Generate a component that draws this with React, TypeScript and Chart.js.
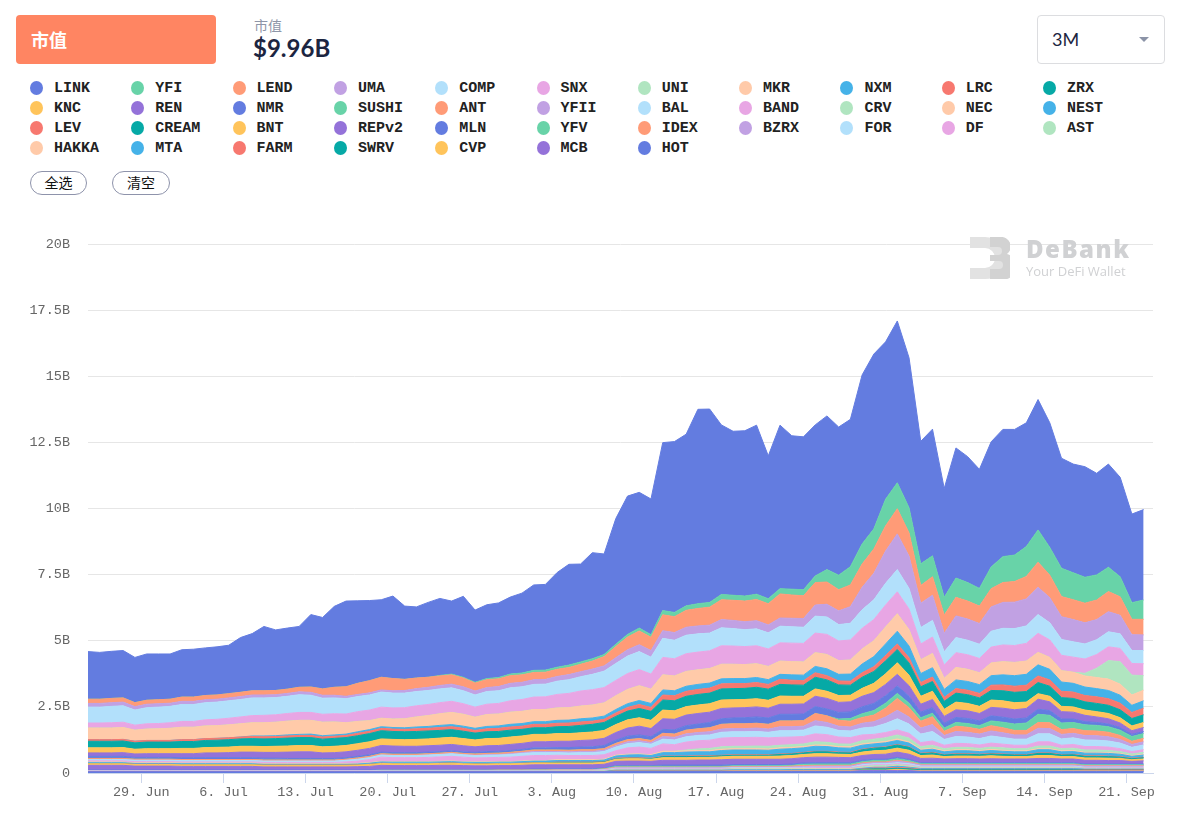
import React, { useEffect, useRef } from 'react';
import { Chart, registerables } from 'chart.js';

Chart.register(...registerables);

// ---------- axis data ----------
// x = days since 24 Jun 00:00; daily snapshots are taken ~0.45 day into each day
const SNAPSHOT_OFFSET = 0.45;
const X_MAX = 91.25;
const TICK_DAYS = [5, 12, 19, 26, 33, 40, 47, 54, 61, 68, 75, 82, 89];
const TICK_LABELS = ['29. Jun', '6. Jul', '13. Jul', '20. Jul', '27. Jul', '3. Aug', '10. Aug', '17. Aug', '24. Aug', '31. Aug', '7. Sep', '14. Sep', '21. Sep'];
const Y_MAX = 20;
const Y_STEP = 2.5;

// ---------- legend / stack order (first = top of stack) ----------
const NAMES = ['LINK', 'YFI', 'LEND', 'UMA', 'COMP', 'SNX', 'UNI', 'MKR', 'NXM', 'LRC', 'ZRX',
  'KNC', 'REN', 'NMR', 'SUSHI', 'ANT', 'YFII', 'BAL', 'BAND', 'CRV', 'NEC', 'NEST',
  'LEV', 'CREAM', 'BNT', 'REPv2', 'MLN', 'YFV', 'IDEX', 'BZRX', 'FOR', 'DF', 'AST',
  'HAKKA', 'MTA', 'FARM', 'SWRV', 'CVP', 'MCB', 'HOT'];
const PALETTE = ['#637ce0', '#68d3a8', '#ff9b77', '#c1a1e3', '#b2e0fb', '#e8a6e4', '#b0e5c0',
  '#ffcaa9', '#45b2e8', '#f7786f', '#06a9a6', '#ffc45b', '#9472d9'];

// ---------- market cap values, $B, one per day from 24 Jun to 22 Sep ----------
const LINK = [
1.80,1.77,1.78,1.79,1.71,1.75,1.73,1.71,1.79,1.81,
1.80,1.82,1.83,2.07,2.16,2.43,2.29,2.31,2.30,2.74,
2.70,3.06,3.24,3.12,3.03,2.93,3.12,2.77,2.69,2.83,
2.91,2.76,3.06,2.73,2.79,2.82,2.91,3.02,3.23,3.24,
3.58,3.81,3.70,4.01,3.80,4.75,5.23,5.13,5.13,6.35,
6.46,6.49,7.35,7.31,6.41,6.20,6.25,6.39,5.40,6.18,
5.80,5.78,5.71,5.81,5.60,5.57,6.39,6.61,5.95,6.12,
5.67,4.63,4.79,4.12,4.92,4.76,4.50,4.73,4.81,4.75,
4.68,4.93,4.71,4.16,4.11,4.18,3.84,3.90,3.76,3.35,
3.42];
const YFI = [
0,0,0,0,0,0,0,0,0,0,
0,0,0,0,0,0,0,0,0,0,
0,0,0,0,0,0,0,0,0,0,
.02,.03,.03,.03,.04,.05,.06,.07,.08,.08,
.08,.09,.09,.09,.08,.09,.10,.11,.10,.16,
.16,.17,.18,.18,.20,.19,.19,.20,.19,.20,
.22,.23,.25,.47,.55,.69,.76,.76,1.01,.98,
.95,.82,.79,.67,.73,.70,.67,.82,.98,1.00,
1.13,1.22,1.05,1.07,1.02,.98,.95,.92,.76,.63,
.73];
const LEND = [
.16,.16,.16,.16,.15,.15,.15,.15,.16,.16,
.16,.16,.16,.16,.16,.16,.16,.16,.17,.20,
.24,.30,.36,.42,.46,.48,.46,.42,.40,.38,
.36,.35,.33,.30,.30,.29,.29,.28,.27,.27,
.27,.27,.28,.30,.35,.42,.48,.52,.50,.60,
.60,.64,.66,.68,.75,.76,.78,.80,.80,.91,
.88,.86,.85,.84,.80,.82,.88,.92,.95,.95,
.88,.67,.70,.69,.70,.68,.66,.69,.75,.78,
.85,.95,.85,.76,.75,.74,.74,.76,.70,.58,
.59];
const UMA = [
.14,.14,.14,.14,.13,.13,.13,.12,.12,.12,
.11,.11,.11,.11,.11,.11,.11,.11,.11,.11,
.11,.10,.09,.08,.08,.08,.09,.10,.11,.12,
.13,.14,.15,.15,.15,.16,.17,.17,.18,.18,
.18,.19,.19,.20,.20,.22,.24,.26,.25,.29,
.29,.30,.30,.30,.31,.31,.30,.31,.30,.31,
.32,.33,.42,.48,.52,.63,.85,1.00,1.22,1.35,
1.22,.92,.95,.70,.82,.80,.78,.92,.98,1.00,
1.02,1.03,.95,.86,.84,.80,.76,.76,.70,.60,
.59];
const COMP = [
.60,.60,.62,.62,.57,.61,.62,.62,.64,.64,
.65,.65,.66,.66,.67,.66,.65,.65,.67,.65,
.61,.60,.58,.57,.57,.57,.56,.55,.54,.53,
.52,.51,.49,.46,.48,.48,.49,.48,.48,.48,
.50,.52,.54,.58,.62,.64,.66,.68,.64,.72,
.70,.70,.69,.67,.68,.66,.64,.64,.61,.63,
.62,.61,.64,.66,.62,.63,.70,.75,.82,.84,
.78,.62,.63,.50,.57,.55,.54,.60,.63,.64,
.66,.71,.65,.60,.58,.57,.56,.57,.55,.49,
.50];
const SNX = [
.19,.19,.20,.20,.19,.20,.20,.21,.22,.22,
.23,.24,.25,.26,.27,.28,.28,.29,.30,.30,
.30,.31,.33,.37,.40,.42,.42,.42,.42,.42,
.42,.42,.40,.38,.39,.40,.43,.45,.47,.48,
.51,.54,.57,.58,.58,.58,.60,.61,.57,.66,
.65,.67,.67,.67,.70,.69,.68,.68,.66,.69,
.70,.70,.74,.76,.74,.76,.78,.80,.83,.83,
.78,.60,.62,.50,.56,.55,.54,.60,.63,.64,
.67,.72,.66,.58,.57,.54,.52,.52,.50,.44,
.45];
const UNI = [
0,0,0,0,0,0,0,0,0,0,
0,0,0,0,0,0,0,0,0,0,
0,0,0,0,0,0,0,0,0,0,
0,0,0,0,0,0,0,0,0,0,
0,0,0,0,0,0,0,0,0,0,
0,0,0,0,0,0,0,0,0,0,
0,0,0,0,0,0,0,0,0,0,
0,0,0,0,0,0,0,0,0,0,
0,0,0,0,0,.10,.35,.70,.85,.75,
.55];
const MKR = [
.44,.44,.44,.45,.42,.43,.44,.46,.47,.47,
.48,.48,.49,.50,.50,.50,.51,.52,.53,.52,
.51,.49,.43,.39,.34,.32,.32,.34,.38,.41,
.44,.46,.45,.42,.45,.45,.46,.46,.46,.46,
.47,.47,.48,.49,.50,.52,.54,.56,.54,.57,
.56,.56,.55,.55,.55,.54,.53,.52,.50,.50,
.50,.50,.52,.54,.52,.53,.57,.60,.64,.66,
.62,.52,.54,.42,.47,.46,.45,.48,.50,.50,
.50,.47,.45,.43,.42,.42,.42,.43,.42,.39,
.40];
const NXM = [
0,0,0,0,0,0,0,0,0,0,
0,0,0,0,.02,.03,.03,.04,.04,.05,
.05,.05,.05,.06,.06,.06,.06,.06,.07,.07,
.08,.08,.08,.08,.09,.09,.10,.10,.10,.10,
.11,.11,.12,.12,.12,.13,.14,.15,.15,.19,
.19,.19,.19,.19,.19,.19,.19,.19,.18,.19,
.20,.21,.24,.26,.25,.27,.33,.38,.44,.48,
.44,.34,.35,.30,.33,.33,.33,.36,.38,.40,
.41,.42,.40,.35,.33,.32,.31,.31,.30,.27,
.28];
const LRC = [
.06,.06,.06,.06,.06,.06,.06,.06,.07,.07,
.07,.07,.07,.07,.08,.08,.08,.08,.08,.08,
.08,.08,.08,.09,.09,.09,.09,.09,.10,.10,
.11,.11,.11,.10,.11,.12,.12,.12,.13,.13,
.13,.13,.13,.12,.12,.13,.14,.15,.15,.19,
.19,.19,.19,.19,.19,.19,.18,.18,.18,.19,
.18,.17,.17,.16,.15,.15,.17,.18,.20,.21,
.20,.16,.17,.15,.17,.17,.17,.20,.22,.23,
.24,.25,.24,.24,.24,.24,.25,.25,.25,.23,
.25];
const ZRX = [
.25,.25,.25,.25,.24,.25,.25,.25,.26,.26,
.27,.27,.28,.28,.29,.29,.29,.30,.30,.30,
.29,.30,.30,.30,.31,.31,.30,.30,.30,.30,
.29,.29,.28,.26,.26,.26,.26,.25,.25,.25,
.26,.27,.28,.29,.30,.31,.33,.35,.34,.38,
.38,.39,.40,.40,.42,.42,.42,.43,.42,.44,
.43,.42,.44,.43,.40,.38,.42,.45,.49,.50,
.46,.36,.37,.30,.34,.33,.32,.36,.38,.39,
.40,.42,.38,.33,.32,.31,.31,.31,.30,.28,
.29];
const KNC = [
.19,.19,.19,.19,.18,.19,.19,.19,.20,.20,
.20,.21,.21,.22,.22,.22,.23,.23,.24,.24,
.23,.24,.24,.25,.25,.25,.25,.25,.26,.26,
.27,.27,.27,.26,.27,.27,.28,.28,.28,.28,
.29,.29,.29,.30,.30,.30,.31,.32,.31,.33,
.32,.32,.32,.32,.32,.31,.31,.31,.30,.31,
.30,.29,.28,.27,.26,.25,.30,.35,.40,.44,
.40,.30,.31,.27,.29,.28,.27,.28,.28,.27,
.24,.21,.21,.20,.20,.20,.20,.20,.20,.18,
.19];
const REN = [
.13,.13,.13,.14,.13,.14,.14,.14,.15,.15,
.18,.18,.19,.21,.21,.22,.22,.24,.25,.25,
.21,.22,.22,.23,.24,.25,.25,.24,.24,.24,
.24,.24,.23,.21,.22,.22,.23,.23,.23,.23,
.24,.24,.25,.26,.27,.29,.31,.33,.31,.40,
.40,.40,.40,.39,.39,.38,.38,.38,.37,.38,
.38,.38,.39,.40,.38,.38,.40,.41,.43,.44,
.40,.30,.31,.26,.29,.29,.28,.32,.34,.35,
.36,.38,.33,.28,.26,.24,.21,.20,.17,.14,
.15];
const NMR = [
.08,.08,.08,.08,.07,.07,.07,.07,.07,.07,
.07,.07,.07,.07,.07,.07,.07,.06,.06,.06,
.06,.06,.06,.06,.06,.06,.06,.06,.06,.06,
.06,.06,.06,.06,.07,.07,.07,.07,.08,.08,
.09,.10,.10,.11,.12,.12,.13,.14,.14,.15,
.16,.17,.18,.20,.21,.22,.23,.24,.24,.25,
.25,.25,.26,.26,.25,.25,.26,.27,.28,.28,
.26,.21,.21,.18,.19,.19,.18,.19,.19,.19,
.19,.19,.18,.15,.13,.12,.11,.10,.10,.08,
.08];
const SUSHI = [
0,0,0,0,0,0,0,0,0,0,
0,0,0,0,0,0,0,0,0,0,
0,0,0,0,0,0,0,0,0,0,
0,0,0,0,0,0,0,0,0,0,
0,0,0,0,0,0,0,0,0,0,
0,0,0,0,0,0,0,0,0,0,
0,0,0,0,.05,.10,.14,.17,.19,.19,
.17,.13,.13,.12,.14,.14,.14,.18,.21,.24,
.28,.31,.28,.25,.23,.22,.21,.21,.20,.18,
.18];
const ANT = [
.04,.04,.04,.04,.04,.04,.04,.04,.04,.04,
.04,.04,.04,.04,.04,.04,.04,.04,.04,.04,
.04,.04,.04,.05,.05,.05,.05,.05,.05,.05,
.05,.05,.05,.05,.05,.05,.05,.05,.06,.06,
.06,.06,.06,.06,.06,.08,.08,.08,.08,.12,
.12,.14,.14,.15,.18,.18,.18,.18,.18,.22,
.22,.21,.27,.25,.22,.22,.22,.25,.33,.45,
.35,.26,.30,.16,.20,.19,.18,.20,.19,.17,
.17,.22,.22,.18,.18,.18,.18,.17,.15,.12,
.13];
const YFII = [
0,0,0,0,0,0,0,0,0,0,
0,0,0,0,0,0,0,0,0,0,
0,0,0,0,0,0,0,0,0,0,
0,0,0,.01,.02,.02,.03,.03,.04,.04,
.04,.04,.05,.05,.05,.06,.07,.07,.06,.10,
.10,.11,.11,.12,.12,.12,.12,.13,.12,.15,
.15,.15,.20,.18,.16,.15,.18,.20,.25,.32,
.27,.23,.26,.15,.19,.18,.17,.19,.18,.16,
.16,.21,.20,.17,.17,.17,.17,.16,.14,.11,
.12];
const BAL = [
.05,.05,.05,.05,.05,.05,.05,.05,.05,.05,
.05,.05,.05,.05,.05,.05,.05,.05,.05,.05,
.05,.05,.06,.07,.07,.08,.08,.08,.08,.09,
.09,.10,.09,.09,.09,.09,.10,.11,.11,.11,
.10,.10,.11,.11,.12,.14,.16,.17,.16,.18,
.18,.20,.20,.20,.22,.22,.22,.22,.21,.25,
.24,.24,.30,.28,.25,.25,.26,.28,.34,.42,
.35,.32,.36,.22,.26,.25,.24,.27,.25,.23,
.23,.30,.30,.24,.25,.25,.24,.23,.21,.16,
.18];
const BAND = [
.05,.05,.05,.05,.05,.05,.05,.05,.05,.05,
.05,.05,.05,.05,.05,.05,.05,.05,.05,.05,
.05,.05,.07,.09,.12,.16,.15,.15,.15,.16,
.17,.18,.17,.15,.16,.16,.17,.18,.19,.19,
.17,.16,.16,.16,.17,.17,.24,.26,.24,.28,
.25,.30,.31,.31,.33,.33,.33,.33,.32,.30,
.29,.28,.30,.29,.26,.25,.22,.18,.20,.19,
.18,.15,.16,.13,.15,.14,.13,.15,.14,.13,
.13,.16,.16,.13,.14,.13,.13,.13,.11,.09,
.10];
const CRV = [
0,0,0,0,0,0,0,0,0,0,
0,0,0,0,0,0,0,0,0,0,
0,0,0,0,0,0,0,0,0,0,
0,0,0,0,0,0,0,0,0,0,
0,0,0,0,0,0,0,0,0,0,
0,.03,.06,.08,.09,.09,.09,.10,.10,.10,
.10,.10,.12,.11,.10,.10,.12,.13,.14,.15,
.14,.10,.11,.08,.09,.09,.08,.09,.09,.08,
.08,.10,.10,.08,.09,.09,.09,.08,.07,.06,
.07];
const NEC = [
.02,.02,.02,.02,.02,.02,.02,.02,.02,.02,
.02,.02,.02,.02,.02,.02,.02,.02,.02,.02,
.02,.02,.02,.02,.02,.02,.02,.02,.02,.02,
.02,.02,.02,.02,.02,.02,.02,.02,.02,.02,
.03,.03,.03,.03,.03,.03,.03,.03,.03,.05,
.05,.05,.05,.05,.05,.05,.05,.05,.05,.05,
.05,.05,.05,.05,.05,.05,.05,.05,.05,.06,
.05,.04,.04,.04,.04,.04,.04,.04,.04,.04,
.04,.04,.04,.04,.04,.03,.03,.03,.03,.03,
.03];
const NEST = [
.03,.03,.03,.03,.03,.03,.03,.03,.03,.03,
.03,.03,.03,.03,.03,.03,.03,.03,.03,.03,
.03,.03,.03,.03,.04,.05,.05,.05,.05,.05,
.05,.05,.05,.05,.05,.05,.05,.06,.06,.06,
.06,.06,.06,.06,.06,.08,.10,.11,.10,.13,
.13,.15,.15,.15,.18,.18,.18,.18,.17,.18,
.18,.17,.19,.18,.16,.16,.15,.14,.15,.15,
.14,.11,.12,.10,.11,.11,.10,.11,.10,.10,
.10,.12,.12,.10,.10,.10,.10,.10,.09,.07,
.08];
const LEV = [
.01,.01,.01,.01,.01,.01,.01,.01,.01,.01,
.01,.01,.01,.01,.01,.01,.01,.01,.01,.01,
.01,.01,.01,.01,.01,.01,.01,.01,.01,.01,
.01,.01,.01,.01,.01,.01,.01,.01,.01,.01,
.01,.01,.01,.01,.01,.02,.02,.02,.02,.02,
.02,.02,.02,.02,.02,.02,.02,.02,.02,.02,
.02,.02,.02,.02,.02,.02,.02,.02,.02,.02,
.02,.02,.02,.02,.02,.02,.02,.02,.02,.02,
.02,.02,.02,.02,.02,.02,.02,.02,.02,.02,
.02];
const CREAM = [
0,0,0,0,0,0,0,0,0,0,
0,0,0,0,0,0,0,0,0,0,
0,0,0,0,0,0,0,0,0,0,
0,0,0,0,0,0,0,0,0,0,
.02,.02,.02,.02,.02,.02,.02,.02,.02,.04,
.04,.04,.04,.04,.04,.04,.04,.04,.04,.06,
.06,.06,.07,.07,.06,.06,.09,.10,.11,.12,
.11,.07,.08,.06,.07,.07,.06,.07,.07,.06,
.06,.08,.08,.06,.07,.06,.06,.06,.05,.04,
.05];
const BNT = [
.06,.06,.06,.06,.06,.06,.06,.06,.06,.06,
.06,.06,.06,.06,.06,.06,.06,.06,.06,.06,
.06,.06,.06,.06,.07,.07,.07,.07,.07,.07,
.07,.08,.07,.07,.07,.07,.07,.07,.07,.07,
.07,.07,.07,.07,.07,.08,.09,.09,.08,.10,
.10,.10,.10,.10,.11,.11,.11,.11,.11,.12,
.12,.12,.13,.13,.12,.12,.13,.14,.15,.15,
.15,.11,.12,.09,.10,.10,.10,.11,.10,.09,
.09,.11,.11,.09,.09,.09,.09,.09,.08,.06,
.07];
const REPv2 = [
.18,.18,.18,.18,.15,.15,.15,.15,.14,.14,
.14,.14,.14,.14,.14,.12,.12,.12,.12,.12,
.12,.12,.12,.13,.14,.17,.16,.16,.16,.16,
.17,.17,.16,.15,.15,.15,.15,.16,.16,.16,
.15,.15,.15,.15,.14,.16,.17,.17,.16,.18,
.18,.18,.19,.19,.20,.20,.20,.20,.20,.20,
.20,.20,.21,.21,.20,.19,.18,.18,.19,.20,
.19,.16,.17,.14,.15,.15,.14,.15,.14,.14,
.14,.16,.16,.14,.14,.14,.14,.13,.13,.10,
.12];
const MLN = [
.02,.02,.02,.02,.02,.02,.02,.02,.02,.02,
.02,.02,.02,.02,.02,.02,.02,.02,.02,.02,
.02,.02,.02,.02,.02,.02,.02,.02,.02,.02,
.02,.02,.02,.02,.02,.02,.02,.02,.03,.03,
.03,.03,.03,.03,.03,.03,.03,.03,.03,.05,
.05,.05,.05,.05,.05,.05,.05,.05,.05,.05,
.05,.05,.05,.05,.05,.05,.05,.05,.05,.05,
.05,.04,.04,.04,.04,.04,.04,.04,.04,.04,
.04,.04,.04,.04,.04,.03,.03,.03,.03,.03,
.03];
const YFV = [
0,0,0,0,0,0,0,0,0,0,
0,0,0,0,0,0,0,0,0,0,
0,0,0,0,0,0,0,0,0,0,
0,0,0,0,0,0,0,0,.01,.01,
.01,.01,.01,.01,.01,.03,.03,.03,.03,.03,
.03,.03,.03,.03,.03,.03,.03,.03,.03,.03,
.03,.05,.05,.05,.05,.05,.05,.05,.05,.06,
.05,.03,.03,.03,.03,.03,.03,.03,.03,.03,
.03,.03,.03,.03,.03,.03,.03,.03,.03,.03,
.03];
const IDEX = [
.01,.01,.01,.01,.01,.01,.01,.01,.01,.01,
.01,.01,.01,.01,.01,.01,.01,.01,.01,.01,
.01,.01,.01,.01,.01,.01,.01,.01,.01,.01,
.01,.01,.01,.01,.01,.01,.01,.01,.01,.01,
.01,.01,.01,.01,.02,.02,.02,.02,.02,.02,
.02,.02,.02,.02,.02,.02,.02,.02,.02,.02,
.03,.03,.03,.03,.03,.03,.03,.03,.03,.03,
.03,.02,.02,.02,.02,.02,.02,.02,.02,.02,
.02,.02,.02,.02,.02,.02,.02,.02,.02,.02,
.02];
const BZRX = [
0,0,0,0,0,0,0,0,0,0,
0,0,0,0,0,0,0,0,0,0,
0,0,0,0,0,0,0,0,0,0,
0,0,0,0,0,.01,.01,.01,.01,.01,
.01,.01,.01,.01,.01,.02,.02,.02,.02,.02,
.02,.02,.02,.02,.02,.02,.02,.02,.02,.02,
.02,.04,.04,.04,.04,.04,.04,.04,.04,.06,
.04,.04,.04,.04,.04,.04,.04,.04,.04,.04,
.04,.04,.04,.04,.04,.04,.04,.04,.04,.04,
.04];
const FOR = [
.01,.01,.01,.01,.01,.01,.01,.01,.01,.01,
.01,.01,.01,.01,.01,.01,.01,.01,.01,.01,
.01,.01,.01,.01,.01,.01,.01,.01,.01,.01,
.01,.01,.01,.01,.01,.01,.01,.01,.01,.01,
.01,.01,.01,.01,.01,.02,.02,.02,.02,.02,
.02,.02,.02,.02,.02,.02,.02,.02,.02,.02,
.02,.02,.02,.02,.02,.02,.04,.04,.04,.04,
.04,.03,.03,.03,.03,.03,.03,.03,.03,.03,
.03,.03,.03,.03,.03,.02,.02,.02,.02,.02,
.02];
const DF = [
.01,.01,.01,.01,.01,.01,.01,.01,.01,.01,
.01,.01,.01,.01,.01,.01,.01,.01,.01,.01,
.01,.01,.01,.01,.01,.01,.01,.01,.01,.01,
.01,.01,.01,.01,.01,.01,.01,.01,.01,.01,
.01,.01,.01,.01,.02,.02,.02,.02,.02,.02,
.02,.02,.02,.02,.02,.02,.02,.02,.02,.02,
.02,.02,.03,.03,.03,.03,.03,.03,.03,.03,
.03,.02,.02,.02,.02,.02,.02,.02,.02,.02,
.02,.02,.02,.02,.02,.02,.02,.02,.02,.02,
.02];
const AST = [
.01,.01,.01,.01,.01,.01,.01,.01,.01,.01,
.01,.01,.01,.01,.01,.01,.01,.01,.01,.01,
.01,.01,.01,.01,.01,.01,.01,.01,.01,.01,
.01,.01,.01,.01,.01,.01,.01,.01,.01,.01,
.01,.01,.01,.01,.02,.02,.02,.02,.02,.02,
.02,.02,.02,.02,.02,.02,.02,.02,.02,.02,
.02,.02,.02,.02,.02,.02,.04,.04,.04,.04,
.04,.03,.03,.03,.03,.03,.03,.03,.03,.03,
.03,.03,.03,.03,.03,.02,.02,.02,.02,.02,
.02];
const HAKKA = [
0,0,0,0,0,0,0,0,0,0,
0,0,0,0,0,0,0,0,0,0,
0,0,0,0,0,0,0,0,0,0,
0,0,0,0,0,0,0,0,0,0,
.01,.01,.01,.01,.01,.01,.01,.01,.01,.01,
.01,.01,.01,.01,.01,.02,.02,.02,.02,.02,
.02,.02,.02,.02,.02,.02,.02,.02,.02,.02,
.02,.01,.01,.01,.01,.01,.01,.01,.01,.01,
.01,.01,.01,.01,.01,.01,.01,.01,.01,.01,
.01];
const MTA = [
0,0,0,0,0,0,0,0,0,0,
0,0,0,0,0,0,0,0,0,0,
0,0,0,0,0,.01,.01,.01,.01,.01,
.01,.01,.01,.01,.01,.01,.01,.01,.01,.01,
.01,.01,.01,.01,.01,.03,.03,.03,.03,.03,
.03,.03,.03,.03,.03,.03,.03,.03,.03,.03,
.03,.03,.03,.03,.03,.03,.03,.03,.03,.05,
.03,.03,.03,.03,.03,.03,.03,.03,.03,.03,
.03,.03,.03,.03,.03,.02,.02,.02,.02,.02,
.02];
const FARM = [
0,0,0,0,0,0,0,0,0,0,
0,0,0,0,0,0,0,0,0,0,
0,0,0,0,0,0,0,0,0,0,
0,0,0,0,0,0,0,0,0,0,
0,0,0,0,0,0,0,0,0,0,
0,0,0,0,0,0,0,0,0,0,
.01,.01,.01,.01,.01,.01,.01,.03,.03,.03,
.03,.02,.02,.02,.02,.02,.02,.02,.02,.02,
.02,.02,.02,.02,.02,.02,.02,.02,.02,.02,
.02];
const SWRV = [
0,0,0,0,0,0,0,0,0,0,
0,0,0,0,0,0,0,0,0,0,
0,0,0,0,0,0,0,0,0,0,
0,0,0,0,0,0,0,0,0,0,
0,0,0,0,0,0,0,0,0,0,
0,0,0,0,0,0,0,0,0,0,
0,0,0,0,0,0,.03,.05,.05,.05,
.05,.03,.03,.03,.03,.03,.03,.03,.03,.03,
.03,.03,.03,.03,.03,.02,.02,.02,.02,.02,
.02];
const CVP = [
0,0,0,0,0,0,0,0,0,0,
0,0,0,0,0,0,0,0,0,0,
0,0,0,0,0,0,0,0,0,0,
0,0,0,0,0,0,0,0,0,0,
0,0,0,0,0,.01,.01,.01,.01,.01,
.01,.01,.01,.01,.01,.02,.02,.02,.02,.02,
.02,.02,.02,.02,.02,.02,.02,.02,.02,.04,
.02,.02,.02,.02,.02,.02,.02,.02,.02,.02,
.02,.02,.02,.02,.02,.02,.02,.02,.02,.02,
.02];
const MCB = [
.01,.01,.01,.01,.01,.01,.01,.01,.01,.01,
.01,.01,.01,.01,.01,.01,.01,.01,.01,.01,
.01,.01,.01,.01,.01,.01,.01,.01,.01,.01,
.01,.01,.01,.01,.01,.01,.01,.01,.01,.01,
.01,.01,.01,.01,.01,.02,.02,.02,.02,.02,
.02,.02,.02,.02,.02,.02,.02,.02,.02,.02,
.02,.02,.02,.02,.02,.02,.03,.03,.03,.03,
.03,.02,.02,.02,.02,.02,.02,.02,.02,.02,
.02,.02,.02,.02,.02,.02,.02,.02,.02,.02,
.02];
const HOT = [
.04,.04,.04,.04,.04,.04,.04,.04,.04,.04,
.04,.04,.04,.04,.04,.04,.04,.04,.04,.04,
.04,.04,.04,.04,.04,.04,.04,.04,.04,.04,
.04,.04,.04,.04,.04,.04,.04,.04,.04,.04,
.04,.04,.04,.04,.04,.05,.05,.05,.05,.05,
.05,.05,.05,.05,.05,.05,.05,.05,.05,.05,
.05,.05,.05,.05,.05,.05,.06,.06,.06,.06,
.06,.05,.05,.05,.05,.05,.05,.05,.05,.05,
.05,.05,.05,.05,.05,.05,.05,.05,.05,.05,
.05];

const SERIES: Record<string, number[]> = {
  LINK, YFI, LEND, UMA, COMP, SNX, UNI, MKR, NXM, LRC, ZRX,
  KNC, REN, NMR, SUSHI, ANT, YFII, BAL, BAND, CRV, NEC, NEST,
  LEV, CREAM, BNT, REPv2, MLN, YFV, IDEX, BZRX, FOR, DF, AST,
  HAKKA, MTA, FARM, SWRV, CVP, MCB, HOT,
};

const MONO = '"Courier New", Courier, "Nimbus Mono PS", "Nimbus Mono L", FreeMono, "Liberation Mono", monospace';
const CJK = '"Noto Sans CJK SC", "Noto Sans", sans-serif';

function colorOf(name: string) {
  return PALETTE[NAMES.indexOf(name) % PALETTE.length];
}

function StackChart() {
  const ref = useRef<HTMLCanvasElement | null>(null);
  useEffect(() => {
    if (!ref.current) return;
    const stackOrder = [...NAMES].reverse(); // bottom of stack first
    const datasets = stackOrder.map((name, k) => ({
      label: name,
      data: SERIES[name].map((v, i) => ({ x: i + SNAPSHOT_OFFSET, y: v })),
      backgroundColor: colorOf(name),
      borderColor: colorOf(name),
      borderWidth: 1,
      fill: k === 0 ? 'origin' : '-1',
      pointRadius: 0,
      pointHoverRadius: 0,
      tension: 0,
    }));
    const chart = new Chart(ref.current, {
      type: 'line',
      data: { datasets } as any,
      options: {
        animation: false,
        responsive: false,
        devicePixelRatio: 1,
        events: [],
        layout: { padding: { top: 44, right: 30, left: 0, bottom: 0 } },
        plugins: { legend: { display: false }, tooltip: { enabled: false } },
        scales: {
          x: {
            type: 'linear',
            min: SNAPSHOT_OFFSET,
            max: X_MAX,
            afterBuildTicks: (s: any) => { s.ticks = TICK_DAYS.map((v) => ({ value: v })); },
            afterFit: (s: any) => { s.height = 46; },
            ticks: {
              autoSkip: false,
              maxRotation: 0,
              padding: 1,
              color: '#666',
              font: { family: MONO, size: 13.5 },
              callback: (v: any) => {
                const idx = TICK_DAYS.indexOf(Number(v));
                return idx >= 0 ? TICK_LABELS[idx] : '';
              },
            },
            grid: { drawOnChartArea: false, drawTicks: true, tickLength: 10, color: '#ccd6eb', tickColor: '#ccd6eb' },
            border: { display: true, color: '#ccd6eb', width: 1 },
          },
          y: {
            stacked: true,
            min: 0,
            max: Y_MAX,
            afterFit: (s: any) => { s.width = 88; },
            ticks: {
              stepSize: Y_STEP,
              padding: 18,
              color: '#666',
              font: { family: MONO, size: 13.5 },
              callback: (v: any) => (Number(v) === 0 ? '0' : `${v}B`),
            },
            grid: { color: '#e6e6e6', drawTicks: false },
            border: { display: false },
          },
        },
      } as any,
    });
    return () => chart.destroy();
  }, []);
  return <canvas ref={ref} width={1183} height={619} style={{ position: 'absolute', left: 0, top: 200, width: 1183, height: 619 }} />;
}

export default function App() {
  return (
    <div style={{ position: 'relative', width: 1183, height: 819, overflow: 'hidden', background: '#fff' }}>
      <style>{'body{margin:0}'}</style>

      {/* header */}
      <div style={{ position: 'absolute', left: 16, top: 15, width: 200, height: 49, background: '#ff8562', borderRadius: 4, color: '#fff', fontFamily: CJK, fontWeight: 700, fontSize: 18, lineHeight: '49px', paddingLeft: 15, boxSizing: 'border-box' }}>市值</div>
      <div style={{ position: 'absolute', left: 254, top: 15, fontFamily: CJK, fontSize: 14, lineHeight: '20px', color: '#8e96a8' }}>市值</div>
      <div style={{ position: 'absolute', left: 253, top: 34, fontFamily: 'Lato, sans-serif', fontWeight: 700, fontSize: 24, lineHeight: '28px', color: '#1c2541' }}>$9.96B</div>
      <div style={{ position: 'absolute', left: 1037, top: 15, width: 128, height: 49, border: '1px solid #dcdde0', borderRadius: 4, boxSizing: 'border-box' }}>
        <div style={{ position: 'absolute', left: 14, top: 0, lineHeight: '47px', fontFamily: 'Lato, sans-serif', fontSize: 18, color: '#1c2541' }}>3M</div>
        <div style={{ position: 'absolute', left: 101, top: 21, width: 0, height: 0, borderLeft: '5px solid transparent', borderRight: '5px solid transparent', borderTop: '5px solid #8b93a7' }} />
      </div>

      {/* legend */}
      {NAMES.map((name, k) => {
        const col = k % 11;
        const row = Math.floor(k / 11);
        const left = 30 + col * 101.3;
        const top = 81 + row * 20;
        return (
          <div key={name} style={{ position: 'absolute', left, top, height: 14, display: 'flex', alignItems: 'center' }}>
            <span style={{ width: 13, height: 14, borderRadius: '50%', background: colorOf(name), display: 'inline-block' }} />
            <span style={{ position: 'absolute', left: 24, top: -2, fontFamily: MONO, fontWeight: 700, fontSize: 15, lineHeight: '20px', color: '#222', whiteSpace: 'nowrap' }}>{name}</span>
          </div>
        );
      })}

      {/* buttons */}
      <div style={{ position: 'absolute', left: 30, top: 171, width: 57, height: 24, border: '1.5px solid #8e93ab', borderRadius: 12, boxSizing: 'border-box', fontFamily: CJK, fontSize: 14, lineHeight: '21px', textAlign: 'center', color: '#111' }}>全选</div>
      <div style={{ position: 'absolute', left: 112, top: 171, width: 58, height: 24, border: '1.5px solid #8e93ab', borderRadius: 12, boxSizing: 'border-box', fontFamily: CJK, fontSize: 14, lineHeight: '21px', textAlign: 'center', color: '#111' }}>清空</div>

      <StackChart />

      {/* watermark */}
      <div style={{ position: 'absolute', left: 970, top: 237, pointerEvents: 'none' }}>
        <svg width="40" height="42" viewBox="0 0 40 42" style={{ position: 'absolute', left: 0, top: 0 }}>
          <path d="M0 0 H15 A21 21 0 0 1 15 42 H0 V31 H15 A10 10 0 0 0 15 11 H0 Z" fill="#e2e2e2" />
          <path d="M20 0 H30 A9.5 9.5 0 0 1 37 17 A11 11 0 0 1 30 42 H20 V32 H29 A4 4 0 0 0 29 24 H20 V18 H28 A4 4 0 0 0 28 10 H20 Z" fill="#d2d2d2" />
        </svg>
        <div style={{ position: 'absolute', left: 56, top: -2, fontFamily: '"Open Sans", sans-serif', fontWeight: 800, fontSize: 24, letterSpacing: 1.5, lineHeight: '28px', color: '#d0d1d3', whiteSpace: 'nowrap' }}>DeBank</div>
        <div style={{ position: 'absolute', left: 56, top: 25, fontFamily: '"Open Sans", sans-serif', fontSize: 13, lineHeight: '18px', color: '#d0d1d3', whiteSpace: 'nowrap' }}>Your DeFi Wallet</div>
      </div>
    </div>
  );
}
